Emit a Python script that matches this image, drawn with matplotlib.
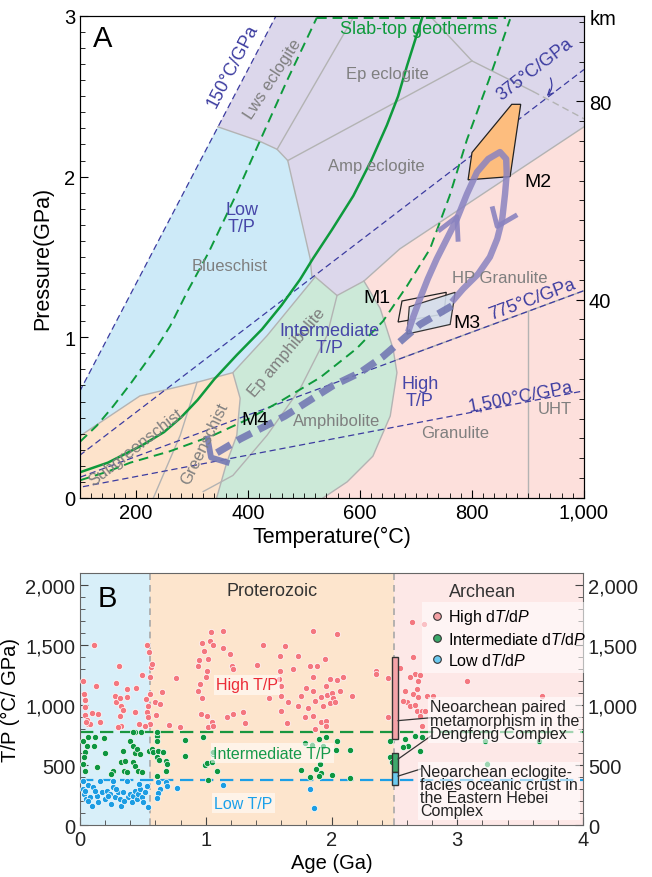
import numpy as np
import matplotlib.pyplot as plt
from matplotlib.ticker import MultipleLocator, FuncFormatter
from matplotlib.lines import Line2D

plt.rcParams['font.family'] = ['Liberation Sans', 'DejaVu Sans']
plt.rcParams['mathtext.fontset'] = 'custom'
plt.rcParams['mathtext.rm'] = 'Liberation Sans'
plt.rcParams['mathtext.it'] = 'Liberation Sans:italic'

# ---------------- panel A data (T in C, P in GPa) ----------------
geotherms = [150, 375, 775, 1500]
geo_labels = ['150°C/GPa', '375°C/GPa', '775°C/GPa', '1,500°C/GPa']
geo_label_T = [372, 912, 907, 886]
geo_label_P = [2.69, 2.67, 1.24, 0.635]

base_T = [100, 1000, 1000, 450, 100]
base_P = [0, 0, 3, 3, 0.667]
lav_T = [346, 450, 1000, 1000, 671, 607, 559, 520, 514, 511, 471, 452, 421]
lav_P = [2.31, 3.0, 3.0, 2.31, 1.55, 1.35, 1.26, 1.376, 1.38, 1.49, 2.10, 2.17, 2.22]
blue_T = [100, 346, 421, 452, 471, 511, 514, 520, 434, 373, 309, 207, 100]
blue_P = [0.667, 2.31, 2.22, 2.17, 2.10, 1.49, 1.38, 1.376, 1.01, 0.78, 0.72, 0.635, 0.386]
green_T = [373, 434, 520, 559, 607, 636, 659, 666, 654, 623, 577, 534, 344, 362, 380, 386]
green_P = [0.78, 1.01, 1.376, 1.26, 1.35, 1.18, 0.93, 0.78, 0.51, 0.26, 0.10, 0.0, 0.0, 0.22, 0.39, 0.62]
orange_T = [100, 344, 362, 380, 386, 373, 309, 207, 100]
orange_P = [0, 0, 0.22, 0.39, 0.62, 0.78, 0.72, 0.635, 0.386]

boundaries = [
    ([346, 421, 452, 471, 511, 514, 520], [2.31, 2.22, 2.17, 2.10, 1.49, 1.38, 1.376]),
    ([520, 434, 373, 309, 207, 100], [1.376, 1.01, 0.78, 0.72, 0.635, 0.386]),
    ([520, 559, 607, 671, 1000], [1.376, 1.26, 1.35, 1.55, 2.31]),
    ([607, 636, 659, 666, 654, 623, 577, 534], [1.35, 1.18, 0.93, 0.78, 0.51, 0.26, 0.10, 0.0]),
    ([373, 386, 380, 362, 344], [0.78, 0.62, 0.39, 0.22, 0.0]),
    ([452, 588], [2.17, 2.99]),
    ([471, 800], [2.10, 2.72]),
    ([725, 800, 909], [3.0, 2.72, 2.53]),
    ([559, 541, 493, 434, 373, 320], [1.26, 1.01, 0.68, 0.39, 0.14, 0.04]),
    ([309, 279, 231], [0.72, 0.39, 0.0]),
    ([666, 1000], [0.86, 1.29]),
    ([900, 900], [0.0, 1.161]),
]
eclogite_dash_T = [909, 1000]
eclogite_dash_P = [2.53, 2.36]

slab_solid_T = [100, 150, 212, 250, 280, 310, 340, 380, 425, 460, 493, 516, 550, 588, 620, 648, 668, 684, 712]
slab_solid_P = [0.16, 0.22, 0.33, 0.41, 0.50, 0.61, 0.74, 0.89, 1.05, 1.20, 1.36, 1.49, 1.67, 1.88, 2.10,
                2.32, 2.50, 2.69, 3.0]
slab_cold_T = [100, 130, 159, 190, 219, 241, 261, 291, 330, 375, 421, 470, 523]
slab_cold_P = [0.35, 0.45, 0.57, 0.71, 0.85, 0.96, 1.07, 1.28, 1.53, 1.86, 2.22, 2.60, 2.99]
slab_hot_T = [100, 150, 190, 260, 338, 400, 457, 529, 594, 641, 684, 725, 760, 791, 830, 868]
slab_hot_P = [0.11, 0.165, 0.22, 0.29, 0.39, 0.49, 0.60, 0.75, 0.93, 1.10, 1.32, 1.55, 1.88, 2.23, 2.60, 2.98]

m1_T = [675, 754, 750, 668]
m1_P = [1.226, 1.28, 1.145, 1.095]
m2_T = [871, 887, 868, 793, 800]
m2_P = [2.45, 2.45, 2.0, 1.98, 2.15]
m3_T = [688, 770, 761, 684]
m3_P = [1.19, 1.28, 1.08, 1.02]

loop_T = [686, 695, 707, 721, 737, 755, 773, 791, 809, 829, 850, 861, 862, 859, 854, 845, 832, 811, 784, 764]
loop_P = [1.033, 1.127, 1.239, 1.363, 1.488, 1.612, 1.736, 1.892, 2.029, 2.110, 2.153, 2.110, 2.017, 1.892,
          1.736, 1.612, 1.500, 1.394, 1.301, 1.220]
retro_T = [764, 707, 641, 600, 552, 466, 386, 335]
retro_P = [1.195, 1.08, 0.88, 0.78, 0.70, 0.51, 0.367, 0.262]

# ---------------- panel B data ----------------
high_age = [0.11, 0.027, 0.03, 0.04, 0.04, 0.053, 0.066, 0.08, 0.048, 0.037, 0.093, 0.125, 0.146, 0.159,
            0.29, 0.31, 0.28, 0.286, 0.32, 0.33, 0.345, 0.32, 0.33, 0.30, 0.37, 0.37, 0.445, 0.437, 0.47,
            0.49, 0.53, 0.55, 0.565, 0.57, 0.557, 0.557, 0.525, 0.543, 0.53, 0.543, 0.557, 0.517, 0.596,
            0.636, 0.65, 0.604, 0.71, 0.76, 0.795, 0.94, 0.95, 0.97, 0.99, 1.0, 1.007, 1.02, 1.034, 1.04,
            1.055, 0.954, 0.94, 0.967, 0.96, 1.007, 1.02, 1.047, 1.055, 1.135, 1.14, 1.19, 1.206, 1.214,
            1.166, 1.22, 1.30, 1.31, 1.458, 1.405, 1.63, 1.59, 1.736, 1.69, 1.59, 1.585, 1.60, 1.505, 1.60,
            1.657, 1.60, 1.65, 1.855, 1.85, 1.83, 1.887, 1.95, 2.04, 1.99, 2.047, 2.09, 1.80, 1.757, 1.855,
            1.914, 1.87, 1.956, 1.967, 2.0, 2.01, 2.07, 2.16, 1.736, 1.816, 1.855, 1.79, 1.935, 1.99, 2.03,
            1.914, 1.956, 1.956, 1.87, 2.354, 2.354, 2.452, 2.452, 2.64, 2.737, 2.646, 2.665, 2.705, 2.625,
            2.69, 2.678, 2.646, 2.69, 2.757, 2.81, 2.567, 2.6, 2.625, 2.665, 2.678, 2.718, 2.745, 2.705,
            2.718, 3.076, 3.673, 2.545, 2.585, 2.566]
high_tp = [1500, 1203, 1092, 1040, 919, 878, 839, 844, 861, 986, 933, 1161, 925, 861,
           1183, 1322, 1078, 1022, 1055, 994, 961, 911, 828, 814, 1133, 1064, 1142, 939, 842,
           1250, 1500, 1439, 1314, 1342, 1231, 1092, 1050, 994, 944, 897, 842, 822, 1022,
           1008, 1106, 917, 833, 1222, 814, 1322, 1378, 1517, 1453, 1231, 1286, 1383, 1536, 1611,
           1500, 1175, 1119, 1056, 925, 911, 814, 856, 828, 1619, 1472, 1425, 1328, 1300,
           897, 925, 939, 850, 1500, 1333, 1489, 1411, 1411, 1300, 1286, 1217, 1161, 1058, 1072,
           1022, 953, 847, 1619, 1233, 1328, 1328, 1383, 1592, 1217, 1211, 1231, 1139, 1078, 1119,
           1064, 1036, 1156, 1083, 1100, 1056, 1114, 1072, 994, 975, 911, 903, 994, 1014, 1028,
           861, 869, 822, 800, 1286, 1258, 1222, 897, 1689, 1675, 1397, 1258, 1250, 1231,
           1203, 1133, 1092, 1064, 1072, 1072, 1036, 1022, 994, 1003, 953, 947, 953, 911,
           828, 1203, 1078, 1306, 1119, 1031]

int_age = [0.027, 0.066, 0.053, 0.04, 0.03, 0.027, 0.04, 0.12, 0.111, 0.19, 0.138, 0.265, 0.244, 0.20,
           0.345, 0.40, 0.33, 0.36, 0.35, 0.37, 0.42, 0.437, 0.45, 0.477, 0.424, 0.437, 0.464, 0.49,
           0.437, 0.485, 0.424, 0.55, 0.57, 0.583, 0.623, 0.657, 0.615, 0.615, 0.61, 0.684, 0.695,
           0.684, 0.615, 0.631, 0.61, 0.835, 0.835, 0.98, 0.994, 1.007, 1.047, 1.055, 1.06, 1.092, 1.02,
           1.903, 1.956, 2.047, 1.79, 1.842, 1.935, 2.036, 2.147, 1.909, 1.877, 1.917, 1.903, 2.0,
           1.755, 1.83, 2.147, 2.466, 2.506, 2.585, 2.61, 2.665, 2.718, 2.705, 2.466, 2.48, 2.567,
           3.22, 3.236, 3.65]
int_tp = [703, 730, 661, 606, 564, 508, 453, 731, 661, 725, 481, 453, 425, 597,
          619, 703, 522, 536, 450, 440, 661, 600, 633, 592, 522, 494, 453, 439,
          772, 778, 778, 619, 633, 606, 619, 606, 744, 703, 778, 536, 508,
          453, 564, 544, 411, 711, 578, 731, 500, 517, 522, 592, 606, 453, 378,
          717, 731, 703, 683, 667, 661, 628, 628, 508, 467, 431, 406, 419,
          461, 403, 394, 703, 731, 717, 661, 744, 731, 619, 564, 522, 647,
          703, 508, 703]

low_age = [0.027, 0.02, 0.03, 0.048, 0.04, 0.066, 0.093, 0.08, 0.106, 0.133, 0.146, 0.159, 0.172, 0.20,
           0.212, 0.24, 0.25, 0.265, 0.265, 0.28, 0.305, 0.318, 0.33, 0.345, 0.37, 0.384, 0.40, 0.41,
           0.424, 0.437, 0.45, 0.464, 0.477, 0.49, 0.504, 0.517, 0.543, 0.53, 0.06, 0.12, 0.22, 0.35,
           0.29, 0.47, 0.623, 0.636, 0.623, 0.615, 0.684, 0.695, 0.77, 1.14, 1.83, 1.86]
low_tp = [369, 300, 258, 217, 286, 330, 161, 231, 314, 244, 189, 369, 272, 217,
          286, 258, 175, 369, 314, 231, 272, 217, 161, 272, 369, 231, 258, 189,
          244, 286, 217, 258, 300, 231, 189, 272, 147, 328, 200, 280, 240, 200,
          300, 340, 356, 300, 267, 222, 361, 322, 306, 333, 300, 142]

eras = [(0, 0.56, '#d8eff9'), (0.56, 2.5, '#fde5cd'), (2.5, 4, '#fde8e7')]
bar_age = 2.505
bar_bottom = [720, 440, 330]
bar_top = [1400, 600, 440]
bar_colors = ['#f5a3a8', '#3fa86c', '#6ccaf0']

grey = '#b3b3b3'
navy = '#3c3ca0'
gcol = '#0e9a3c'
pcol = '#8a83c0'

fig = plt.figure(figsize=(6.52, 8.78), dpi=100)

# ================= panel A =================
ax = fig.add_axes([0.1227, 0.4317, 0.773, 0.549])
ax.set_xlim(100, 1000)
ax.set_ylim(0, 3)

ax.fill(base_T, base_P, color='#fde0dc', lw=0, zorder=0)
ax.fill(lav_T, lav_P, color='#dcd7eb', lw=0, zorder=0)
ax.fill(blue_T, blue_P, color='#cdeaf8', lw=0, zorder=0)
ax.fill(green_T, green_P, color='#cce9d8', lw=0, zorder=0)
ax.fill(orange_T, orange_P, color='#fde3cb', lw=0, zorder=0)
for bt, bp in boundaries:
    ax.plot(bt, bp, color=grey, lw=1.0, zorder=1)
ax.plot(eclogite_dash_T, eclogite_dash_P, color=grey, lw=1.0, ls=(0, (5, 3)), zorder=1)

tt = np.array([0, 1000])
for k in geotherms:
    ax.plot(tt, tt / k, color=navy, lw=0.9, ls=(0, (5, 3)), zorder=2)

ax.plot(slab_solid_T, slab_solid_P, color=gcol, lw=1.8, zorder=3)
ax.plot(slab_cold_T, slab_cold_P, color=gcol, lw=1.4, ls=(0, (5, 3)), zorder=3)
ax.plot(slab_hot_T, slab_hot_P, color=gcol, lw=1.4, ls=(0, (5, 3)), zorder=3)
ax.plot([523, 860], [2.985, 2.985], color=gcol, lw=1.4, ls=(0, (5, 3)), zorder=3, clip_on=False)

ax.fill(m2_T, m2_P, facecolor='#fdbd7e', edgecolor='#222222', lw=0.9, zorder=4)
ax.fill(m1_T, m1_P, facecolor='none', edgecolor='#222222', lw=0.9, zorder=4)
ax.fill(m3_T, m3_P, facecolor='#d3deec', edgecolor='#222222', lw=0.9, alpha=0.9, zorder=4)

ax.plot(loop_T, loop_P, color=pcol, lw=4.6, alpha=0.85, solid_capstyle='butt',
        solid_joinstyle='round', zorder=5)
ax.plot([743, 773, 775], [1.67, 1.75, 1.61], color=pcol, lw=3.5, alpha=0.9, zorder=5)
ax.plot([837, 845, 877], [1.80, 1.69, 1.755], color=pcol, lw=3.5, alpha=0.9, zorder=5)
ax.plot(retro_T, retro_P, color='#7479b4', lw=5.2, ls=(0, (2.2, 1.1)), alpha=0.9, zorder=5)
ax.plot([328, 334, 362], [0.37, 0.252, 0.222], color='#7479b4', lw=4.2, alpha=0.9, zorder=5)

# geotherm labels along lines
for k, lab, lt, lp in zip(geotherms, geo_labels, geo_label_T, geo_label_P):
    p1 = ax.transData.transform((0, 0))
    p2 = ax.transData.transform((k, 1))
    ang = np.degrees(np.arctan2(p2[1] - p1[1], p2[0] - p1[0]))
    ax.text(lt, lp, lab, color=navy, fontsize=13, rotation=ang, rotation_mode='anchor',
            ha='center', va='center', zorder=6)
ax.annotate('', xy=(930, 2.49), xytext=(938, 2.63),
            arrowprops=dict(arrowstyle='->', color=navy, lw=0.9, connectionstyle='arc3,rad=-0.4'), zorder=6)

gtxt = dict(color='#7f7f7f', fontsize=12, ha='center', va='center', zorder=6)
ax.text(445, 2.61, 'Lws eclogite', rotation=57, **gtxt)
ax.text(648, 2.64, 'Ep eclogite', **gtxt)
ax.text(630, 2.07, 'Amp eclogite', **gtxt)
ax.text(368, 1.445, 'Blueschist', **gtxt)
ax.text(469, 0.91, 'Ep amphibolite', rotation=50, **gtxt)
ax.text(559, 0.48, 'Amphibolite', **gtxt)
ax.text(200, 0.32, 'Subgreenschist', rotation=38, **gtxt)
ax.text(323, 0.34, 'Greenschist', rotation=64, **gtxt)
ax.text(850, 1.37, 'HP Granulite', **gtxt)
ax.text(770, 0.405, 'Granulite', **gtxt)
ax.text(948, 0.555, 'UHT', **gtxt)

btxt = dict(color='#4646a8', fontsize=13, ha='center', va='center', linespacing=1.0, zorder=6)
ax.text(389, 1.74, 'Low\nT/P', **btxt)
ax.text(546, 0.99, 'Intermediate\nT/P', **btxt)
ax.text(707, 0.66, 'High\nT/P', **btxt)
ax.text(705, 2.92, 'Slab-top geotherms', color=gcol, fontsize=13, ha='center', va='center', zorder=6)

mtxt = dict(color='black', fontsize=14, ha='center', va='center', zorder=6)
ax.text(630, 1.25, 'M1', **mtxt)
ax.text(918, 1.97, 'M2', **mtxt)
ax.text(791, 1.095, 'M3', **mtxt)
ax.text(412, 0.49, 'M4', **mtxt)
ax.text(0.025, 0.955, 'A', transform=ax.transAxes, fontsize=21, ha='left', va='center')

ax.xaxis.set_major_locator(MultipleLocator(200))
ax.xaxis.set_minor_locator(MultipleLocator(20))
ax.yaxis.set_major_locator(MultipleLocator(1))
ax.yaxis.set_minor_locator(MultipleLocator(0.1))
ax.xaxis.set_major_formatter(FuncFormatter(lambda v, p: f'{v:,.0f}'))
ax.tick_params(which='both', direction='in', labelsize=14.5, top=False, right=False)
ax.tick_params(which='major', length=6)
ax.tick_params(which='minor', length=3.5)
ax.set_xlabel('Temperature(°C)', fontsize=15.5, labelpad=3)
ax.set_ylabel('Pressure(GPa)', fontsize=15.5, labelpad=8)
for s in ax.spines.values():
    s.set_color('#222222')

km_per_gpa = 32.4
axr = ax.twinx()
axr.set_ylim(0, 3 * km_per_gpa)
axr.yaxis.set_major_locator(MultipleLocator(40))
axr.yaxis.set_minor_locator(MultipleLocator(4))
axr.yaxis.set_major_formatter(FuncFormatter(lambda v, p: '' if v == 0 else f'{v:.0f}'))
axr.tick_params(which='both', direction='in', labelsize=14.5)
axr.tick_params(which='major', length=6)
axr.tick_params(which='minor', length=3.5)
ax.text(1.012, 0.994, 'km', transform=ax.transAxes, fontsize=14.5, ha='left', va='center')

# ================= panel B =================
bx = fig.add_axes([0.1227, 0.0592, 0.7715, 0.287])
bx.set_xlim(0, 4)
bx.set_ylim(0, 2100)
for a0, a1, c in eras:
    bx.axvspan(a0, a1, color=c, lw=0, zorder=0)
for a in [0.56, 2.5]:
    bx.axvline(a, color='#a8a8a8', lw=1.2, ls=(0, (4, 3)), zorder=1)
bx.axhline(775, color='#19963f', lw=1.6, ls=(0, (6, 3)), zorder=2)
bx.axhline(375, color='#1c9fe6', lw=1.6, ls=(0, (6, 3)), zorder=2)

bx.scatter(high_age, high_tp, s=20, color='#f4777f', edgecolor='white', lw=0.5, zorder=3)
bx.scatter(int_age, int_tp, s=20, color='#0e9640', edgecolor='white', lw=0.5, zorder=3)
bx.scatter(low_age, low_tp, s=20, color='#1c9de3', edgecolor='white', lw=0.5, zorder=3)

box = dict(facecolor='white', alpha=0.55, edgecolor='none', pad=1.5)
bx.text(1.33, 1167, 'High T/P', color='#ec2a36', fontsize=11.5, ha='center', va='center', bbox=box, zorder=4)
bx.text(1.53, 600, 'Intermediate T/P', color='#16994a', fontsize=11.5, ha='center', va='center', bbox=box, zorder=4)
bx.text(1.30, 183, 'Low T/P', color='#1aa0ea', fontsize=11.5, ha='center', va='center', bbox=box, zorder=4)
bx.text(1.53, 1958, 'Proterozoic', color='#333333', fontsize=13, ha='center', va='center')
bx.text(3.2, 1945, 'Archean', color='#333333', fontsize=13, ha='center', va='center')
bx.text(0.035, 0.9, 'B', transform=bx.transAxes, fontsize=21, ha='left', va='center')

for b0, b1, c in zip(bar_bottom, bar_top, bar_colors):
    bx.bar(bar_age, b1 - b0, bottom=b0, width=0.05, color=c, edgecolor='#333333', lw=1.0, zorder=5)

bx.plot([2.53, 2.80], [870, 895], color='#333333', lw=0.9, zorder=5)
bx.plot([2.53, 2.79], [550, 742], color='#333333', lw=0.9, zorder=5)
bx.plot([2.53, 2.71], [408, 467], color='#333333', lw=0.9, zorder=5)
abox = dict(facecolor='white', alpha=0.6, edgecolor='none', pad=1.5)
bx.text(2.785, 875, 'Neoarchean paired\nmetamorphism in the\nDengfeng Complex', fontsize=11.5,
        color='#222222', ha='left', va='center', linespacing=0.85, bbox=abox, zorder=6)
bx.text(2.705, 283, 'Neoarchean eclogite-\nfacies oceanic crust in\nthe Eastern Hebei\nComplex', fontsize=11.5,
        color='#222222', ha='left', va='center', linespacing=0.85, bbox=abox, zorder=6)

handles = [Line2D([], [], ls='none', marker='o', ms=5.5, mfc=c, mec='#333333', mew=0.8)
           for c in ['#f4a0a4', '#3aa86a', '#6ccaf0']]
labels = ['High d$\\it{T}$/d$\\it{P}$', 'Intermediate d$\\it{T}$/d$\\it{P}$', 'Low d$\\it{T}$/d$\\it{P}$']
leg = bx.legend(handles, labels, loc='upper left', bbox_to_anchor=(0.665, 0.915), fontsize=11.5,
                frameon=True, facecolor='white', framealpha=0.55, edgecolor='none', fancybox=False,
                handletextpad=0.1, labelspacing=0.3, borderpad=0.3, handlelength=1.2)
leg.set_zorder(6)

bx.xaxis.set_major_locator(MultipleLocator(1))
bx.xaxis.set_minor_locator(MultipleLocator(0.2))
bx.yaxis.set_major_locator(MultipleLocator(500))
bx.yaxis.set_minor_locator(MultipleLocator(100))
fmt = FuncFormatter(lambda v, p: f'{v:,.0f}')
bx.yaxis.set_major_formatter(fmt)
bx.tick_params(which='both', direction='in', labelsize=14.5, right=True, labelright=True, colors='#444444')
bx.tick_params(which='major', length=6)
bx.tick_params(which='minor', length=3.5)
bx.tick_params(labelcolor='#222222')
bx.set_xlabel('Age (Ga)', fontsize=14.5, labelpad=3)
bx.set_ylabel('T/P (°C/ GPa)', fontsize=14.5, labelpad=4)
for s in bx.spines.values():
    s.set_color('#666666')

fig.savefig('out.png', dpi=100)
